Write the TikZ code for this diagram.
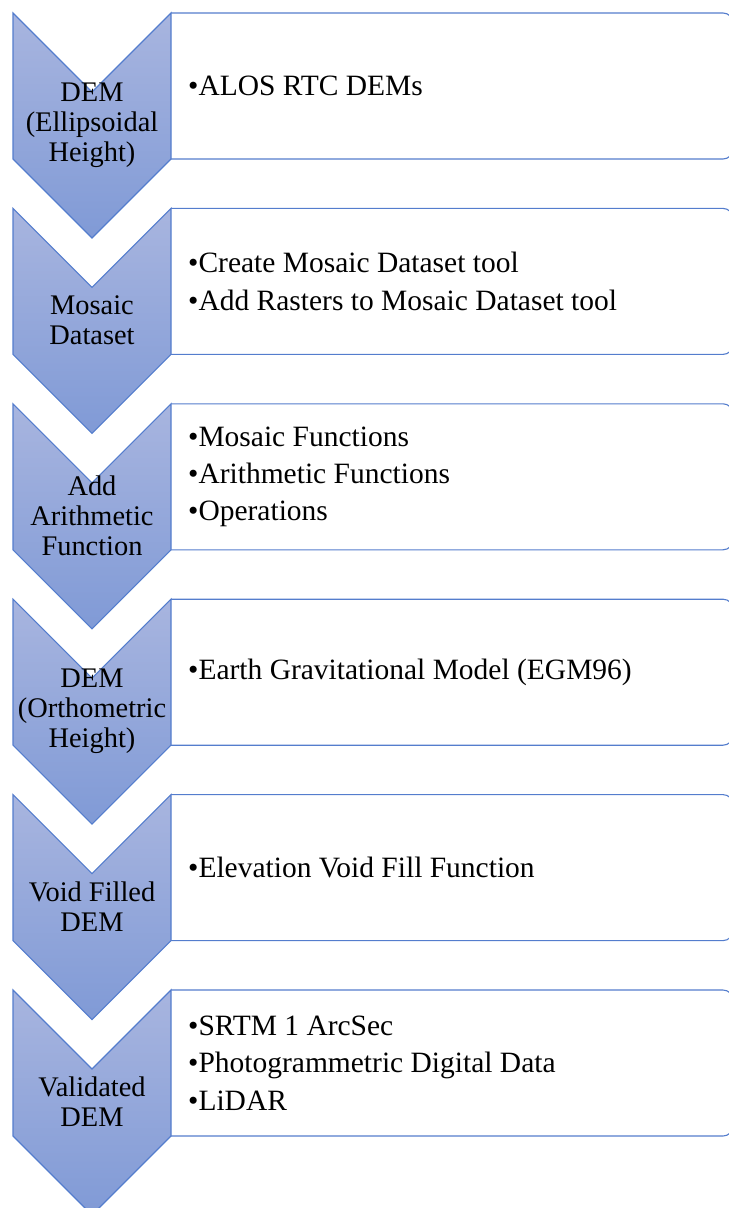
\documentclass[tikz,border=0pt]{standalone}
\usepackage{fontspec}
\setmainfont{Liberation Serif}
\newfontfamily\demfont{Liberation Serif}
\definecolor{demLine}{RGB}{84,125,205}
\definecolor{demTop}{RGB}{168,181,223}
\definecolor{demBottom}{RGB}{128,154,214}
\begin{document}
\begin{tikzpicture}[x=1bp, y=-1bp, font=\demfont]
\useasboundingbox (0,0) rectangle (729,1208);
\clip (0,0) rectangle (729,1208);
%% ---- steps: chevron + list box ----
\foreach \lbl/\items [count=\n] in {
    {DEM\\(Ellipsoidal\\Height)}/{•ALOS RTC DEMs},
    {Mosaic\\Dataset}/{•Create Mosaic Dataset tool\\•Add Rasters to Mosaic Dataset tool},
    {Add\\Arithmetic\\Function}/{•Mosaic Functions\\•Arithmetic Functions\\•Operations},
    {DEM\\(Orthometric\\Height)}/{•Earth Gravitational Model (EGM96)},
    {Void Filled\\DEM}/{•Elevation Void Fill Function},
    {Validated\\DEM}/{•SRTM 1 ArcSec\\•Photogrammetric Digital Data\\•LiDAR}}
{
  \pgfmathsetmacro{\t}{13+195.4*(\n-1)}
  % list box, left side is the chevron edge
  \draw[demLine, line width=1.1bp, rounded corners=10bp]
    (171,\t) -- (733,\t) -- (733,\t+146) -- (171,\t+146);
  % chevron
  \shade[top color=demTop, bottom color=demBottom, draw=demLine, line width=1.1bp]
    (13,\t) -- (92,\t+79) -- (171,\t) -- (171,\t+146) -- (92,\t+225) -- (13,\t+146) -- cycle;
  \node[align=center, inner sep=0pt, font=\demfont\fontsize{28.5}{30}\selectfont]
    (step\n) at (92,\t+112) {\lbl};
  \node[anchor=west, align=left, inner sep=0pt, font=\demfont\fontsize{29.6}{37.5}\selectfont]
    (items\n) at (188,\t+73) {\items};
}
\end{tikzpicture}
\end{document}
